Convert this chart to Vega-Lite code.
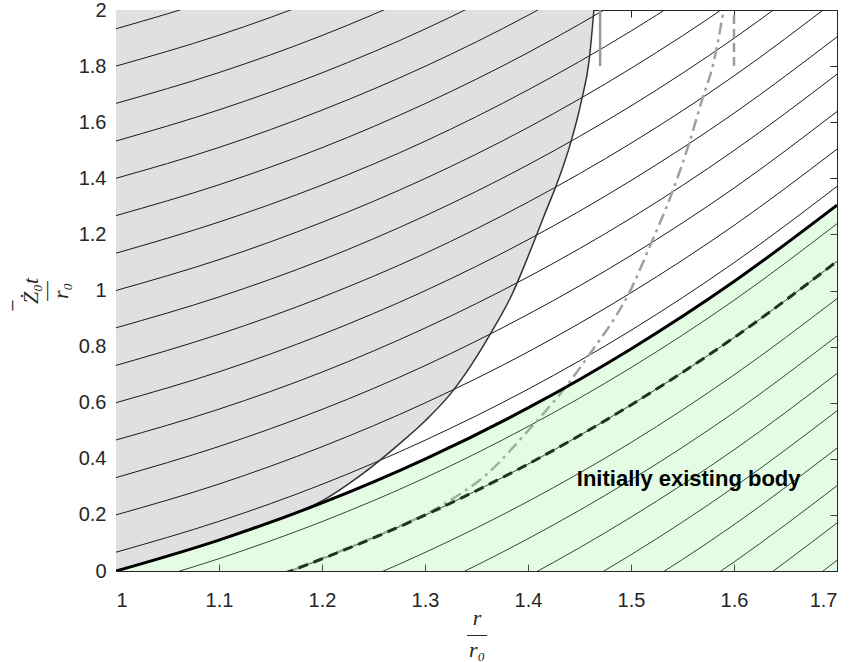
{
  "$schema": "https://vega.github.io/schema/vega-lite/v6.json",
  "width": 721,
  "height": 561,
  "autosize": {"type": "none"},
  "padding": {"left": 116, "top": 10, "right": 16, "bottom": 91},
  "background": "white",
  "config": {
    "view": {"stroke": "#262626", "strokeWidth": 1},
    "axis": {
      "grid": false,
      "labelFont": "Liberation Sans",
      "labelFontSize": 20,
      "labelColor": "#262626",
      "tickColor": "#262626",
      "domainColor": "#262626",
      "tickSize": -7,
      "titleColor": "#262626",
      "titleFont": "Liberation Serif",
      "titleFontStyle": "italic",
      "titleFontWeight": "normal",
      "titleFontSize": 22
    }
  },
  "resolve": {"axis": {"x": "independent", "y": "independent"}},
  "datasets": {
    "fam": [
      {"k":-10,"x":1.0,"y":-1.267},{"k":-10,"x":1.1,"y":-1.156},{"k":-10,"x":1.2,"y":-1.024},{"k":-10,"x":1.3,"y":-0.868},{"k":-10,"x":1.4,"y":-0.685},{"k":-10,"x":1.5,"y":-0.475},{"k":-10,"x":1.6,"y":-0.235},{"k":-10,"x":1.7,"y":0.038},
      {"k":-9,"x":1.0,"y":-1.133},{"k":-9,"x":1.1,"y":-1.023},{"k":-9,"x":1.2,"y":-0.891},{"k":-9,"x":1.3,"y":-0.734},{"k":-9,"x":1.4,"y":-0.552},{"k":-9,"x":1.5,"y":-0.342},{"k":-9,"x":1.6,"y":-0.101},{"k":-9,"x":1.7,"y":0.171},
      {"k":-8,"x":1.0,"y":-1.0},{"k":-8,"x":1.1,"y":-0.89},{"k":-8,"x":1.2,"y":-0.757},{"k":-8,"x":1.3,"y":-0.601},{"k":-8,"x":1.4,"y":-0.419},{"k":-8,"x":1.5,"y":-0.208},{"k":-8,"x":1.6,"y":0.032},{"k":-8,"x":1.7,"y":0.304},
      {"k":-7,"x":1.0,"y":-0.867},{"k":-7,"x":1.1,"y":-0.756},{"k":-7,"x":1.2,"y":-0.624},{"k":-7,"x":1.3,"y":-0.468},{"k":-7,"x":1.4,"y":-0.285},{"k":-7,"x":1.5,"y":-0.075},{"k":-7,"x":1.6,"y":0.165},{"k":-7,"x":1.7,"y":0.438},
      {"k":-6,"x":1.0,"y":-0.733},{"k":-6,"x":1.1,"y":-0.623},{"k":-6,"x":1.2,"y":-0.491},{"k":-6,"x":1.3,"y":-0.334},{"k":-6,"x":1.4,"y":-0.152},{"k":-6,"x":1.5,"y":0.058},{"k":-6,"x":1.6,"y":0.299},{"k":-6,"x":1.7,"y":0.571},
      {"k":-5,"x":1.0,"y":-0.6},{"k":-5,"x":1.1,"y":-0.49},{"k":-5,"x":1.2,"y":-0.357},{"k":-5,"x":1.3,"y":-0.201},{"k":-5,"x":1.4,"y":-0.019},{"k":-5,"x":1.5,"y":0.192},{"k":-5,"x":1.6,"y":0.432},{"k":-5,"x":1.7,"y":0.704},
      {"k":-4,"x":1.0,"y":-0.467},{"k":-4,"x":1.1,"y":-0.356},{"k":-4,"x":1.2,"y":-0.224},{"k":-4,"x":1.3,"y":-0.068},{"k":-4,"x":1.4,"y":0.115},{"k":-4,"x":1.5,"y":0.325},{"k":-4,"x":1.6,"y":0.565},{"k":-4,"x":1.7,"y":0.838},
      {"k":-3,"x":1.0,"y":-0.333},{"k":-3,"x":1.1,"y":-0.223},{"k":-3,"x":1.2,"y":-0.091},{"k":-3,"x":1.3,"y":0.066},{"k":-3,"x":1.4,"y":0.248},{"k":-3,"x":1.5,"y":0.458},{"k":-3,"x":1.6,"y":0.699},{"k":-3,"x":1.7,"y":0.971},
      {"k":-2,"x":1.0,"y":-0.2},{"k":-2,"x":1.1,"y":-0.09},{"k":-2,"x":1.2,"y":0.043},{"k":-2,"x":1.3,"y":0.199},{"k":-2,"x":1.4,"y":0.381},{"k":-2,"x":1.5,"y":0.592},{"k":-2,"x":1.6,"y":0.832},{"k":-2,"x":1.7,"y":1.104},
      {"k":-1,"x":1.0,"y":-0.067},{"k":-1,"x":1.1,"y":0.044},{"k":-1,"x":1.2,"y":0.176},{"k":-1,"x":1.3,"y":0.332},{"k":-1,"x":1.4,"y":0.515},{"k":-1,"x":1.5,"y":0.725},{"k":-1,"x":1.6,"y":0.965},{"k":-1,"x":1.7,"y":1.238},
      {"k":0,"x":1.0,"y":0.067},{"k":0,"x":1.1,"y":0.177},{"k":0,"x":1.2,"y":0.309},{"k":0,"x":1.3,"y":0.466},{"k":0,"x":1.4,"y":0.648},{"k":0,"x":1.5,"y":0.858},{"k":0,"x":1.6,"y":1.099},{"k":0,"x":1.7,"y":1.371},
      {"k":1,"x":1.0,"y":0.2},{"k":1,"x":1.1,"y":0.31},{"k":1,"x":1.2,"y":0.443},{"k":1,"x":1.3,"y":0.599},{"k":1,"x":1.4,"y":0.781},{"k":1,"x":1.5,"y":0.992},{"k":1,"x":1.6,"y":1.232},{"k":1,"x":1.7,"y":1.504},
      {"k":2,"x":1.0,"y":0.333},{"k":2,"x":1.1,"y":0.444},{"k":2,"x":1.2,"y":0.576},{"k":2,"x":1.3,"y":0.732},{"k":2,"x":1.4,"y":0.915},{"k":2,"x":1.5,"y":1.125},{"k":2,"x":1.6,"y":1.365},{"k":2,"x":1.7,"y":1.638},
      {"k":3,"x":1.0,"y":0.467},{"k":3,"x":1.1,"y":0.577},{"k":3,"x":1.2,"y":0.709},{"k":3,"x":1.3,"y":0.866},{"k":3,"x":1.4,"y":1.048},{"k":3,"x":1.5,"y":1.258},{"k":3,"x":1.6,"y":1.499},{"k":3,"x":1.7,"y":1.771},
      {"k":4,"x":1.0,"y":0.6},{"k":4,"x":1.1,"y":0.71},{"k":4,"x":1.2,"y":0.843},{"k":4,"x":1.3,"y":0.999},{"k":4,"x":1.4,"y":1.181},{"k":4,"x":1.5,"y":1.392},{"k":4,"x":1.6,"y":1.632},{"k":4,"x":1.7,"y":1.904},
      {"k":5,"x":1.0,"y":0.733},{"k":5,"x":1.1,"y":0.844},{"k":5,"x":1.2,"y":0.976},{"k":5,"x":1.3,"y":1.132},{"k":5,"x":1.4,"y":1.315},{"k":5,"x":1.5,"y":1.525},{"k":5,"x":1.6,"y":1.765},{"k":5,"x":1.7,"y":2.038},
      {"k":6,"x":1.0,"y":0.867},{"k":6,"x":1.1,"y":0.977},{"k":6,"x":1.2,"y":1.109},{"k":6,"x":1.3,"y":1.266},{"k":6,"x":1.4,"y":1.448},{"k":6,"x":1.5,"y":1.658},{"k":6,"x":1.6,"y":1.899},{"k":6,"x":1.7,"y":2.171},
      {"k":7,"x":1.0,"y":1.0},{"k":7,"x":1.1,"y":1.11},{"k":7,"x":1.2,"y":1.243},{"k":7,"x":1.3,"y":1.399},{"k":7,"x":1.4,"y":1.581},{"k":7,"x":1.5,"y":1.792},{"k":7,"x":1.6,"y":2.032},{"k":7,"x":1.7,"y":2.304},
      {"k":8,"x":1.0,"y":1.133},{"k":8,"x":1.1,"y":1.244},{"k":8,"x":1.2,"y":1.376},{"k":8,"x":1.3,"y":1.532},{"k":8,"x":1.4,"y":1.715},{"k":8,"x":1.5,"y":1.925},{"k":8,"x":1.6,"y":2.165},{"k":8,"x":1.7,"y":2.438},
      {"k":9,"x":1.0,"y":1.267},{"k":9,"x":1.1,"y":1.377},{"k":9,"x":1.2,"y":1.509},{"k":9,"x":1.3,"y":1.666},{"k":9,"x":1.4,"y":1.848},{"k":9,"x":1.5,"y":2.058},{"k":9,"x":1.6,"y":2.299},{"k":9,"x":1.7,"y":2.571},
      {"k":10,"x":1.0,"y":1.4},{"k":10,"x":1.1,"y":1.51},{"k":10,"x":1.2,"y":1.643},{"k":10,"x":1.3,"y":1.799},{"k":10,"x":1.4,"y":1.981},{"k":10,"x":1.5,"y":2.192},{"k":10,"x":1.6,"y":2.432},{"k":10,"x":1.7,"y":2.704},
      {"k":11,"x":1.0,"y":1.533},{"k":11,"x":1.1,"y":1.644},{"k":11,"x":1.2,"y":1.776},{"k":11,"x":1.3,"y":1.932},{"k":11,"x":1.4,"y":2.115},{"k":11,"x":1.5,"y":2.325},{"k":11,"x":1.6,"y":2.565},{"k":11,"x":1.7,"y":2.838},
      {"k":12,"x":1.0,"y":1.667},{"k":12,"x":1.1,"y":1.777},{"k":12,"x":1.2,"y":1.909},{"k":12,"x":1.3,"y":2.066},{"k":12,"x":1.4,"y":2.248},{"k":12,"x":1.5,"y":2.458},{"k":12,"x":1.6,"y":2.699},{"k":12,"x":1.7,"y":2.971},
      {"k":13,"x":1.0,"y":1.8},{"k":13,"x":1.1,"y":1.91},{"k":13,"x":1.2,"y":2.043},{"k":13,"x":1.3,"y":2.199},{"k":13,"x":1.4,"y":2.381},{"k":13,"x":1.5,"y":2.592},{"k":13,"x":1.6,"y":2.832},{"k":13,"x":1.7,"y":3.104},
      {"k":14,"x":1.0,"y":1.933},{"k":14,"x":1.1,"y":2.044},{"k":14,"x":1.2,"y":2.176},{"k":14,"x":1.3,"y":2.332},{"k":14,"x":1.4,"y":2.515},{"k":14,"x":1.5,"y":2.725},{"k":14,"x":1.6,"y":2.965},{"k":14,"x":1.7,"y":3.238}
    ],
    "thick": [
      {"x":1.0,"y":0},{"x":1.1,"y":0.1103},{"x":1.2,"y":0.2427},{"x":1.3,"y":0.399},{"x":1.4,"y":0.5813},{"x":1.5,"y":0.7917},{"x":1.6,"y":1.032},{"x":1.7,"y":1.3043}
    ],
    "bound": [
      {"x":1.0,"y":0},{"x":1.05,"y":0.0525},{"x":1.1,"y":0.11},{"x":1.14,"y":0.16},{"x":1.17,"y":0.2},{"x":1.2,"y":0.25},{"x":1.237,"y":0.34},{"x":1.276,"y":0.456},{"x":1.3,"y":0.535},{"x":1.3255,"y":0.635},{"x":1.345,"y":0.735},{"x":1.365,"y":0.855},{"x":1.385,"y":0.99},{"x":1.401,"y":1.13},{"x":1.416,"y":1.27},{"x":1.43,"y":1.4},{"x":1.4417,"y":1.53},{"x":1.4515,"y":1.67},{"x":1.4595,"y":1.825},{"x":1.464,"y":2.0}
    ],
    "dashdot": [
      {"x":1.17,"y":0},{"x":1.21,"y":0.06},{"x":1.256,"y":0.129},{"x":1.32,"y":0.242},{"x":1.36,"y":0.345},{"x":1.4,"y":0.5},{"x":1.437,"y":0.658},{"x":1.465,"y":0.8},{"x":1.483,"y":0.895},{"x":1.498,"y":0.99},{"x":1.518,"y":1.155},{"x":1.54,"y":1.35},{"x":1.556,"y":1.52},{"x":1.569,"y":1.68},{"x":1.58,"y":1.81},{"x":1.59,"y":2.0}
    ],
    "vseg": [
      {"x":1.47,"y":1.8,"y2":2.0,"s":"solid"},
      {"x":1.6,"y":1.8,"y2":2.0,"s":"dash"}
    ],
    "note": [
      {"x":1.556,"y":0.327,"label":"Initially existing body"}
    ]
  },
  "layer": [
    {
      "data": {"name": "bound"},
      "mark": {"type": "area", "interpolate": "monotone", "fill": "#e0e0e0", "clip": true},
      "encoding": {
        "x": {"field": "x", "type": "quantitative", "scale": {"domain": [1, 1.7], "nice": false, "zero": false},
          "axis": {"orient": "bottom", "values": [1, 1.1, 1.2, 1.3, 1.4, 1.5, 1.6, 1.7], "format": ".1~f", "labelPadding": 26, "title": ["r", "—", "r₀"], "titlePadding": -3, "titleLineHeight": 16}},
        "y": {"field": "y", "type": "quantitative", "scale": {"domain": [0, 2], "nice": false, "zero": false},
          "axis": {"orient": "left", "values": [0, 0.2, 0.4, 0.6, 0.8, 1, 1.2, 1.4, 1.6, 1.8, 2], "format": ".1~f", "labelPadding": 17, "title": ["Ż₀t", "—", "r₀"], "titlePadding": 6, "titleLineHeight": 15}},
        "y2": {"datum": 2}
      }
    },
    {
      "data": {"name": "fam"},
      "mark": {"type": "line", "interpolate": "monotone", "stroke": "#1a1a1a", "strokeWidth": 1, "clip": true},
      "encoding": {
        "x": {"field": "x", "type": "quantitative", "scale": {"domain": [1, 1.7], "nice": false, "zero": false},
          "axis": {"orient": "top", "values": [1, 1.1, 1.2, 1.3, 1.4, 1.5, 1.6, 1.7], "labels": false, "domain": false, "title": null}},
        "y": {"field": "y", "type": "quantitative", "scale": {"domain": [0, 2], "nice": false, "zero": false},
          "axis": {"orient": "right", "values": [0, 0.2, 0.4, 0.6, 0.8, 1, 1.2, 1.4, 1.6, 1.8, 2], "labels": false, "domain": false, "title": null}},
        "detail": {"field": "k", "type": "nominal"}
      }
    },
    {
      "data": {"name": "bound"},
      "mark": {"type": "line", "interpolate": "monotone", "stroke": "#333333", "strokeWidth": 1.5, "clip": true},
      "encoding": {
        "x": {"field": "x", "type": "quantitative", "scale": {"domain": [1, 1.7], "nice": false, "zero": false}, "axis": null},
        "y": {"field": "y", "type": "quantitative", "scale": {"domain": [0, 2], "nice": false, "zero": false}, "axis": null}
      }
    },
    {
      "data": {"name": "dashdot"},
      "mark": {"type": "line", "interpolate": "monotone", "stroke": "#a0a0a0", "strokeWidth": 2.5, "strokeDash": [12, 5, 3, 5], "clip": true},
      "encoding": {
        "x": {"field": "x", "type": "quantitative", "scale": {"domain": [1, 1.7], "nice": false, "zero": false}, "axis": null},
        "y": {"field": "y", "type": "quantitative", "scale": {"domain": [0, 2], "nice": false, "zero": false}, "axis": null}
      }
    },
    {
      "data": {"name": "fam"},
      "transform": [{"filter": "datum.k == -2"}],
      "mark": {"type": "line", "interpolate": "monotone", "stroke": "#000000", "strokeWidth": 3, "strokeDash": [10, 6], "clip": true},
      "encoding": {
        "x": {"field": "x", "type": "quantitative", "scale": {"domain": [1, 1.7], "nice": false, "zero": false}, "axis": null},
        "y": {"field": "y", "type": "quantitative", "scale": {"domain": [0, 2], "nice": false, "zero": false}, "axis": null}
      }
    },
    {
      "data": {"name": "vseg"},
      "transform": [{"filter": "datum.s == 'solid'"}],
      "mark": {"type": "rule", "stroke": "#9a9a9a", "strokeWidth": 2.5},
      "encoding": {
        "x": {"field": "x", "type": "quantitative", "scale": {"domain": [1, 1.7], "nice": false, "zero": false}, "axis": null},
        "y": {"field": "y", "type": "quantitative", "scale": {"domain": [0, 2], "nice": false, "zero": false}, "axis": null},
        "y2": {"field": "y2"}
      }
    },
    {
      "data": {"name": "vseg"},
      "transform": [{"filter": "datum.s == 'dash'"}],
      "mark": {"type": "rule", "stroke": "#9a9a9a", "strokeWidth": 2.5, "strokeDash": [9, 5]},
      "encoding": {
        "x": {"field": "x", "type": "quantitative", "scale": {"domain": [1, 1.7], "nice": false, "zero": false}, "axis": null},
        "y": {"field": "y", "type": "quantitative", "scale": {"domain": [0, 2], "nice": false, "zero": false}, "axis": null},
        "y2": {"field": "y2"}
      }
    },
    {
      "data": {"name": "thick"},
      "mark": {"type": "area", "interpolate": "monotone", "fill": "#80f080", "opacity": 0.22, "clip": true},
      "encoding": {
        "x": {"field": "x", "type": "quantitative", "scale": {"domain": [1, 1.7], "nice": false, "zero": false}, "axis": null},
        "y": {"field": "y", "type": "quantitative", "scale": {"domain": [0, 2], "nice": false, "zero": false}, "axis": null},
        "y2": {"datum": 0}
      }
    },
    {
      "data": {"name": "thick"},
      "mark": {"type": "line", "interpolate": "monotone", "stroke": "#000000", "strokeWidth": 3, "clip": true},
      "encoding": {
        "x": {"field": "x", "type": "quantitative", "scale": {"domain": [1, 1.7], "nice": false, "zero": false}, "axis": null},
        "y": {"field": "y", "type": "quantitative", "scale": {"domain": [0, 2], "nice": false, "zero": false}, "axis": null}
      }
    },
    {
      "data": {"name": "note"},
      "mark": {"type": "text", "font": "Liberation Sans", "fontWeight": "bold", "fontSize": 22, "color": "#000000", "align": "center", "baseline": "middle"},
      "encoding": {
        "x": {"field": "x", "type": "quantitative", "scale": {"domain": [1, 1.7], "nice": false, "zero": false}, "axis": null},
        "y": {"field": "y", "type": "quantitative", "scale": {"domain": [0, 2], "nice": false, "zero": false},
          "axis": {"orient": "left", "labels": false, "ticks": false, "domain": false, "title": "−", "titleFontStyle": "normal", "titlePadding": 92, "titleY": 295}},
        "text": {"field": "label", "type": "nominal"}
      }
    }
  ]
}
